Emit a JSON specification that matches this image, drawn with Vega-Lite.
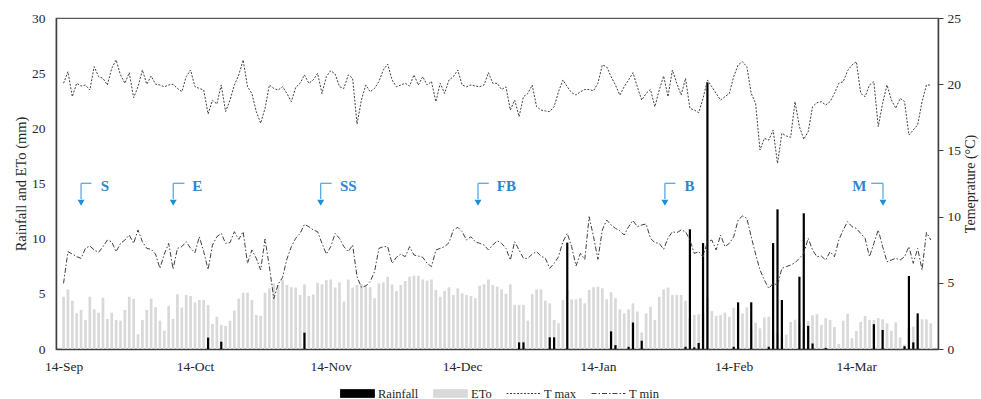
{
"$schema":"https://vega.github.io/schema/vega-lite/v6.json",
"width":882,"height":331,
"autosize":{"type":"none"},
"padding":{"left":56,"top":18,"right":43,"bottom":50},
"background":"white",
"config":{
 "view":{"stroke":"#595959","strokeWidth":1.2},
 "font":"Liberation Serif",
 "axis":{"labelFont":"Liberation Serif","titleFont":"Liberation Serif","labelFontSize":13.5,"titleFontSize":14.5,"labelColor":"#262626","titleColor":"#262626","titleFontWeight":"normal","grid":false,"domainColor":"#404040","domainWidth":1.5},
 "legend":{"labelFont":"Liberation Serif","labelFontSize":12.5,"labelColor":"#262626"}
},
"datasets":{
"days":[
{"date":"2018-09-14","rain":0,"eto":4.74,"tmax":20.07,"tmin":4.96},
{"date":"2018-09-15","rain":0,"eto":5.41,"tmax":20.94,"tmin":7.35},
{"date":"2018-09-16","rain":0,"eto":4.38,"tmax":19.06,"tmin":7.17},
{"date":"2018-09-17","rain":0,"eto":3.24,"tmax":20.07,"tmin":6.97},
{"date":"2018-09-18","rain":0,"eto":3.54,"tmax":19.86,"tmin":6.85},
{"date":"2018-09-19","rain":0,"eto":2.63,"tmax":19.94,"tmin":7.6},
{"date":"2018-09-20","rain":0,"eto":4.74,"tmax":19.56,"tmin":7.78},
{"date":"2018-09-21","rain":0,"eto":3.6,"tmax":21.33,"tmin":7.48},
{"date":"2018-09-22","rain":0,"eto":3.29,"tmax":20.57,"tmin":7.3},
{"date":"2018-09-23","rain":0,"eto":4.65,"tmax":20.44,"tmin":7.73},
{"date":"2018-09-24","rain":0,"eto":2.72,"tmax":19.94,"tmin":8.23},
{"date":"2018-09-25","rain":0,"eto":3.29,"tmax":21.2,"tmin":8.1},
{"date":"2018-09-26","rain":0,"eto":2.63,"tmax":21.83,"tmin":7.35},
{"date":"2018-09-27","rain":0,"eto":2.57,"tmax":20.7,"tmin":7.98},
{"date":"2018-09-28","rain":0,"eto":3.54,"tmax":20.07,"tmin":8.23},
{"date":"2018-09-29","rain":0,"eto":4.74,"tmax":20.87,"tmin":8.61},
{"date":"2018-09-30","rain":0,"eto":4.53,"tmax":18.98,"tmin":7.98},
{"date":"2018-10-01","rain":0,"eto":1.33,"tmax":19.81,"tmin":8.99},
{"date":"2018-10-02","rain":0,"eto":2.63,"tmax":21.07,"tmin":8.1},
{"date":"2018-10-03","rain":0,"eto":3.54,"tmax":20.0,"tmin":7.6},
{"date":"2018-10-04","rain":0,"eto":4.56,"tmax":20.62,"tmin":7.53},
{"date":"2018-10-05","rain":0,"eto":3.78,"tmax":20.0,"tmin":7.17},
{"date":"2018-10-06","rain":0,"eto":2.57,"tmax":19.94,"tmin":6.09},
{"date":"2018-10-07","rain":0,"eto":1.66,"tmax":19.81,"tmin":7.17},
{"date":"2018-10-08","rain":0,"eto":3.9,"tmax":19.94,"tmin":7.98},
{"date":"2018-10-09","rain":0,"eto":2.72,"tmax":19.99,"tmin":6.04},
{"date":"2018-10-10","rain":0,"eto":4.96,"tmax":19.68,"tmin":7.6},
{"date":"2018-10-11","rain":0,"eto":3.75,"tmax":19.43,"tmin":7.73},
{"date":"2018-10-12","rain":0,"eto":4.9,"tmax":20.57,"tmin":8.1},
{"date":"2018-10-13","rain":0,"eto":4.8,"tmax":21.07,"tmin":7.6},
{"date":"2018-10-14","rain":0,"eto":4.23,"tmax":19.81,"tmin":7.27},
{"date":"2018-10-15","rain":0,"eto":4.44,"tmax":19.68,"tmin":8.48},
{"date":"2018-10-16","rain":0,"eto":4.44,"tmax":19.56,"tmin":7.35},
{"date":"2018-10-17","rain":1.03,"eto":3.99,"tmax":17.75,"tmin":6.0},
{"date":"2018-10-18","rain":0,"eto":2.27,"tmax":18.8,"tmin":7.85},
{"date":"2018-10-19","rain":0,"eto":2.93,"tmax":18.5,"tmin":8.48},
{"date":"2018-10-20","rain":0.66,"eto":2.18,"tmax":19.94,"tmin":8.73},
{"date":"2018-10-21","rain":0,"eto":2.09,"tmax":17.93,"tmin":7.98},
{"date":"2018-10-22","rain":0,"eto":2.57,"tmax":18.8,"tmin":8.03},
{"date":"2018-10-23","rain":0,"eto":3.48,"tmax":19.94,"tmin":8.86},
{"date":"2018-10-24","rain":0,"eto":4.56,"tmax":20.7,"tmin":8.28},
{"date":"2018-10-25","rain":0,"eto":5.1,"tmax":21.83,"tmin":8.86},
{"date":"2018-10-26","rain":0,"eto":5.1,"tmax":19.81,"tmin":6.47},
{"date":"2018-10-27","rain":0,"eto":4.44,"tmax":19.3,"tmin":7.48},
{"date":"2018-10-28","rain":0,"eto":3.08,"tmax":17.93,"tmin":6.85},
{"date":"2018-10-29","rain":0,"eto":3.0,"tmax":17.05,"tmin":5.97},
{"date":"2018-10-30","rain":0,"eto":5.1,"tmax":18.18,"tmin":8.3},
{"date":"2018-10-31","rain":0,"eto":5.5,"tmax":19.94,"tmin":6.2},
{"date":"2018-11-01","rain":0,"eto":5.95,"tmax":19.68,"tmin":3.8},
{"date":"2018-11-02","rain":0,"eto":5.8,"tmax":19.56,"tmin":4.9},
{"date":"2018-11-03","rain":0,"eto":6.25,"tmax":19.81,"tmin":5.4},
{"date":"2018-11-04","rain":0,"eto":5.8,"tmax":19.3,"tmin":6.8},
{"date":"2018-11-05","rain":0,"eto":5.6,"tmax":18.68,"tmin":7.73},
{"date":"2018-11-06","rain":0,"eto":5.57,"tmax":19.76,"tmin":8.36},
{"date":"2018-11-07","rain":0,"eto":4.9,"tmax":20.07,"tmin":8.73},
{"date":"2018-11-08","rain":1.48,"eto":5.86,"tmax":20.7,"tmin":9.41},
{"date":"2018-11-09","rain":0,"eto":4.8,"tmax":20.07,"tmin":9.24},
{"date":"2018-11-10","rain":0,"eto":4.95,"tmax":20.32,"tmin":8.99},
{"date":"2018-11-11","rain":0,"eto":6.0,"tmax":20.82,"tmin":8.86},
{"date":"2018-11-12","rain":0,"eto":5.86,"tmax":19.3,"tmin":7.98},
{"date":"2018-11-13","rain":0,"eto":6.25,"tmax":20.57,"tmin":7.17},
{"date":"2018-11-14","rain":0,"eto":6.3,"tmax":21.02,"tmin":7.73},
{"date":"2018-11-15","rain":0,"eto":5.57,"tmax":20.77,"tmin":8.73},
{"date":"2018-11-16","rain":0,"eto":6.04,"tmax":19.81,"tmin":8.36},
{"date":"2018-11-17","rain":0,"eto":4.3,"tmax":19.68,"tmin":7.73},
{"date":"2018-11-18","rain":0,"eto":6.3,"tmax":20.7,"tmin":7.35},
{"date":"2018-11-19","rain":0,"eto":5.57,"tmax":20.44,"tmin":7.85},
{"date":"2018-11-20","rain":0,"eto":5.8,"tmax":17.0,"tmin":5.46},
{"date":"2018-11-21","rain":0,"eto":5.86,"tmax":18.8,"tmin":4.66},
{"date":"2018-11-22","rain":0,"eto":5.8,"tmax":19.94,"tmin":4.76},
{"date":"2018-11-23","rain":0,"eto":5.6,"tmax":19.43,"tmin":5.09},
{"date":"2018-11-24","rain":0,"eto":4.6,"tmax":19.68,"tmin":5.84},
{"date":"2018-11-25","rain":0,"eto":5.95,"tmax":20.2,"tmin":7.6},
{"date":"2018-11-26","rain":0,"eto":6.04,"tmax":21.07,"tmin":7.73},
{"date":"2018-11-27","rain":0,"eto":6.55,"tmax":21.52,"tmin":7.73},
{"date":"2018-11-28","rain":0,"eto":5.86,"tmax":20.32,"tmin":6.47},
{"date":"2018-11-29","rain":0,"eto":5.26,"tmax":19.81,"tmin":6.93},
{"date":"2018-11-30","rain":0,"eto":5.8,"tmax":19.94,"tmin":7.17},
{"date":"2018-12-01","rain":0,"eto":6.16,"tmax":20.07,"tmin":6.97},
{"date":"2018-12-02","rain":0,"eto":6.55,"tmax":19.86,"tmin":7.73},
{"date":"2018-12-03","rain":0,"eto":6.64,"tmax":20.7,"tmin":7.1},
{"date":"2018-12-04","rain":0,"eto":6.64,"tmax":19.94,"tmin":7.02},
{"date":"2018-12-05","rain":0,"eto":6.3,"tmax":20.57,"tmin":6.93},
{"date":"2018-12-06","rain":0,"eto":6.2,"tmax":19.94,"tmin":6.47},
{"date":"2018-12-07","rain":0,"eto":6.3,"tmax":20.2,"tmin":6.22},
{"date":"2018-12-08","rain":0,"eto":5.35,"tmax":18.68,"tmin":7.48},
{"date":"2018-12-09","rain":0,"eto":4.74,"tmax":20.07,"tmin":7.6},
{"date":"2018-12-10","rain":0,"eto":5.26,"tmax":19.3,"tmin":7.73},
{"date":"2018-12-11","rain":0,"eto":5.6,"tmax":20.32,"tmin":8.03},
{"date":"2018-12-12","rain":0,"eto":4.9,"tmax":20.57,"tmin":8.99},
{"date":"2018-12-13","rain":0,"eto":5.5,"tmax":21.07,"tmin":9.19},
{"date":"2018-12-14","rain":0,"eto":5.05,"tmax":19.94,"tmin":8.86},
{"date":"2018-12-15","rain":0,"eto":4.9,"tmax":19.81,"tmin":8.23},
{"date":"2018-12-16","rain":0,"eto":4.8,"tmax":19.94,"tmin":8.48},
{"date":"2018-12-17","rain":0,"eto":4.6,"tmax":19.86,"tmin":8.1},
{"date":"2018-12-18","rain":0,"eto":5.74,"tmax":19.81,"tmin":7.98},
{"date":"2018-12-19","rain":0,"eto":5.86,"tmax":19.94,"tmin":7.85},
{"date":"2018-12-20","rain":0,"eto":6.3,"tmax":20.87,"tmin":7.48},
{"date":"2018-12-21","rain":0,"eto":5.8,"tmax":20.07,"tmin":7.85},
{"date":"2018-12-22","rain":0,"eto":5.65,"tmax":20.07,"tmin":8.18},
{"date":"2018-12-23","rain":0,"eto":5.4,"tmax":19.6,"tmin":7.98},
{"date":"2018-12-24","rain":0,"eto":5.0,"tmax":19.8,"tmin":7.6},
{"date":"2018-12-25","rain":0,"eto":5.86,"tmax":18.05,"tmin":6.72},
{"date":"2018-12-26","rain":0,"eto":4.0,"tmax":18.8,"tmin":8.1},
{"date":"2018-12-27","rain":0.6,"eto":4.0,"tmax":17.55,"tmin":7.48},
{"date":"2018-12-28","rain":0.6,"eto":4.0,"tmax":19.06,"tmin":6.85},
{"date":"2018-12-29","rain":0,"eto":2.57,"tmax":19.3,"tmin":6.85},
{"date":"2018-12-30","rain":0,"eto":4.97,"tmax":19.94,"tmin":7.17},
{"date":"2018-12-31","rain":0,"eto":5.4,"tmax":18.3,"tmin":7.35},
{"date":"2019-01-01","rain":0,"eto":5.4,"tmax":18.05,"tmin":7.02},
{"date":"2019-01-02","rain":0,"eto":4.38,"tmax":17.98,"tmin":6.85},
{"date":"2019-01-03","rain":1.06,"eto":4.14,"tmax":17.93,"tmin":6.09},
{"date":"2019-01-04","rain":1.06,"eto":2.63,"tmax":18.3,"tmin":6.47},
{"date":"2019-01-05","rain":0,"eto":2.33,"tmax":19.43,"tmin":6.97},
{"date":"2019-01-06","rain":0,"eto":4.44,"tmax":20.32,"tmin":8.1},
{"date":"2019-01-07","rain":9.64,"eto":5.35,"tmax":19.81,"tmin":8.73},
{"date":"2019-01-08","rain":0,"eto":4.5,"tmax":19.36,"tmin":7.73},
{"date":"2019-01-09","rain":0,"eto":4.5,"tmax":19.18,"tmin":6.27},
{"date":"2019-01-10","rain":0,"eto":4.6,"tmax":19.43,"tmin":7.22},
{"date":"2019-01-11","rain":0,"eto":4.14,"tmax":19.6,"tmin":6.77},
{"date":"2019-01-12","rain":0,"eto":5.35,"tmax":19.6,"tmin":9.99},
{"date":"2019-01-13","rain":0,"eto":5.6,"tmax":19.5,"tmin":8.48},
{"date":"2019-01-14","rain":0,"eto":5.65,"tmax":20.07,"tmin":6.77},
{"date":"2019-01-15","rain":0,"eto":5.5,"tmax":21.45,"tmin":8.99},
{"date":"2019-01-16","rain":0,"eto":4.5,"tmax":21.32,"tmin":9.74},
{"date":"2019-01-17","rain":1.6,"eto":5.14,"tmax":20.57,"tmin":9.37},
{"date":"2019-01-18","rain":0.35,"eto":4.6,"tmax":19.94,"tmin":9.11},
{"date":"2019-01-19","rain":0,"eto":3.59,"tmax":19.18,"tmin":8.94},
{"date":"2019-01-20","rain":0,"eto":3.23,"tmax":19.81,"tmin":8.61},
{"date":"2019-01-21","rain":0.2,"eto":3.59,"tmax":20.32,"tmin":9.24},
{"date":"2019-01-22","rain":2.4,"eto":4.14,"tmax":20.87,"tmin":9.7},
{"date":"2019-01-23","rain":0,"eto":3.4,"tmax":19.8,"tmin":9.24},
{"date":"2019-01-24","rain":0.75,"eto":1.5,"tmax":18.8,"tmin":9.37},
{"date":"2019-01-25","rain":0,"eto":3.23,"tmax":19.3,"tmin":9.44},
{"date":"2019-01-26","rain":0,"eto":3.83,"tmax":19.6,"tmin":8.36},
{"date":"2019-01-27","rain":0,"eto":2.63,"tmax":18.3,"tmin":8.03},
{"date":"2019-01-28","rain":0,"eto":4.74,"tmax":19.56,"tmin":7.98},
{"date":"2019-01-29","rain":0,"eto":5.4,"tmax":20.62,"tmin":7.53},
{"date":"2019-01-30","rain":0,"eto":5.57,"tmax":19.06,"tmin":8.36},
{"date":"2019-01-31","rain":0,"eto":4.9,"tmax":21.07,"tmin":8.86},
{"date":"2019-02-01","rain":0,"eto":4.9,"tmax":20.07,"tmin":8.78},
{"date":"2019-02-02","rain":0,"eto":4.9,"tmax":19.18,"tmin":8.99},
{"date":"2019-02-03","rain":0.2,"eto":4.38,"tmax":20.44,"tmin":8.86},
{"date":"2019-02-04","rain":10.85,"eto":2.78,"tmax":18.18,"tmin":8.23},
{"date":"2019-02-05","rain":0.15,"eto":3.08,"tmax":18.05,"tmin":7.22},
{"date":"2019-02-06","rain":0.55,"eto":3.14,"tmax":17.85,"tmin":7.35},
{"date":"2019-02-07","rain":9.6,"eto":3.23,"tmax":18.93,"tmin":6.97},
{"date":"2019-02-08","rain":24.15,"eto":4.6,"tmax":20.32,"tmin":8.1},
{"date":"2019-02-09","rain":0,"eto":3.44,"tmax":19.81,"tmin":8.23},
{"date":"2019-02-10","rain":0,"eto":3.0,"tmax":19.3,"tmin":7.48},
{"date":"2019-02-11","rain":0,"eto":3.08,"tmax":18.8,"tmin":8.61},
{"date":"2019-02-12","rain":0,"eto":3.29,"tmax":19.06,"tmin":7.73},
{"date":"2019-02-13","rain":0,"eto":2.93,"tmax":19.3,"tmin":7.98},
{"date":"2019-02-14","rain":0.2,"eto":3.74,"tmax":20.57,"tmin":8.48},
{"date":"2019-02-15","rain":4.23,"eto":3.59,"tmax":21.45,"tmin":9.74},
{"date":"2019-02-16","rain":0,"eto":3.23,"tmax":21.7,"tmin":10.05},
{"date":"2019-02-17","rain":0,"eto":3.78,"tmax":21.32,"tmin":9.87},
{"date":"2019-02-18","rain":4.23,"eto":1.85,"tmax":19.3,"tmin":8.48},
{"date":"2019-02-19","rain":0,"eto":2.39,"tmax":18.55,"tmin":7.17},
{"date":"2019-02-20","rain":0,"eto":1.87,"tmax":15.03,"tmin":5.97},
{"date":"2019-02-21","rain":0,"eto":2.87,"tmax":15.91,"tmin":5.21},
{"date":"2019-02-22","rain":0.2,"eto":2.93,"tmax":15.78,"tmin":4.58},
{"date":"2019-02-23","rain":9.6,"eto":1.5,"tmax":16.53,"tmin":4.96},
{"date":"2019-02-24","rain":12.66,"eto":1.4,"tmax":14.02,"tmin":4.83},
{"date":"2019-02-25","rain":4.44,"eto":1.06,"tmax":16.29,"tmin":6.09},
{"date":"2019-02-26","rain":0,"eto":1.3,"tmax":16.09,"tmin":6.22},
{"date":"2019-02-27","rain":0,"eto":2.45,"tmax":15.99,"tmin":6.34},
{"date":"2019-02-28","rain":0,"eto":2.66,"tmax":18.68,"tmin":6.52},
{"date":"2019-03-01","rain":6.55,"eto":2.35,"tmax":16.79,"tmin":6.85},
{"date":"2019-03-02","rain":12.3,"eto":1.72,"tmax":15.84,"tmin":7.22},
{"date":"2019-03-03","rain":2.1,"eto":2.54,"tmax":16.41,"tmin":8.36},
{"date":"2019-03-04","rain":0.5,"eto":3.06,"tmax":18.3,"tmin":7.48},
{"date":"2019-03-05","rain":0,"eto":3.15,"tmax":18.6,"tmin":6.97},
{"date":"2019-03-06","rain":0,"eto":2.18,"tmax":18.68,"tmin":7.02},
{"date":"2019-03-07","rain":0.1,"eto":2.8,"tmax":18.43,"tmin":6.72},
{"date":"2019-03-08","rain":0,"eto":2.62,"tmax":18.68,"tmin":7.35},
{"date":"2019-03-09","rain":0,"eto":2.0,"tmax":19.31,"tmin":6.97},
{"date":"2019-03-10","rain":0,"eto":0.45,"tmax":20.07,"tmin":8.23},
{"date":"2019-03-11","rain":0,"eto":2.57,"tmax":20.19,"tmin":8.99},
{"date":"2019-03-12","rain":0,"eto":3.2,"tmax":21.02,"tmin":9.62},
{"date":"2019-03-13","rain":0,"eto":0.98,"tmax":21.45,"tmin":9.24},
{"date":"2019-03-14","rain":0,"eto":1.63,"tmax":21.7,"tmin":9.11},
{"date":"2019-03-15","rain":0,"eto":2.45,"tmax":19.31,"tmin":8.73},
{"date":"2019-03-16","rain":0,"eto":3.0,"tmax":19.06,"tmin":8.36},
{"date":"2019-03-17","rain":0,"eto":2.63,"tmax":19.94,"tmin":6.97},
{"date":"2019-03-18","rain":2.25,"eto":2.63,"tmax":20.19,"tmin":7.98},
{"date":"2019-03-19","rain":0,"eto":2.81,"tmax":16.79,"tmin":8.99},
{"date":"2019-03-20","rain":1.72,"eto":2.69,"tmax":18.56,"tmin":7.73},
{"date":"2019-03-21","rain":0,"eto":2.33,"tmax":19.94,"tmin":6.59},
{"date":"2019-03-22","rain":0,"eto":1.66,"tmax":18.81,"tmin":6.72},
{"date":"2019-03-23","rain":0,"eto":2.42,"tmax":18.18,"tmin":6.85},
{"date":"2019-03-24","rain":0,"eto":1.06,"tmax":18.93,"tmin":6.72},
{"date":"2019-03-25","rain":0.25,"eto":0.4,"tmax":18.68,"tmin":6.97},
{"date":"2019-03-26","rain":6.62,"eto":1.87,"tmax":16.16,"tmin":7.73},
{"date":"2019-03-27","rain":0.6,"eto":2.02,"tmax":16.54,"tmin":6.47},
{"date":"2019-03-28","rain":3.23,"eto":2.72,"tmax":16.93,"tmin":7.6},
{"date":"2019-03-29","rain":0,"eto":2.69,"tmax":18.68,"tmin":5.97},
{"date":"2019-03-30","rain":0,"eto":2.69,"tmax":19.94,"tmin":8.8},
{"date":"2019-03-31","rain":0,"eto":2.33,"tmax":19.94,"tmin":8.23}
],
"notes":[
{"label":"S","arrow":"2018-09-18T00:00:00Z","arm":"2018-09-20T09:00:00Z","text":"2018-09-23T11:00:00Z"},
{"label":"E","arrow":"2018-10-09T01:00:00Z","arm":"2018-10-11T14:00:00Z","text":"2018-10-14T12:00:00Z"},
{"label":"SS","arrow":"2018-11-11T17:00:00Z","arm":"2018-11-14T05:00:00Z","text":"2018-11-18T00:00:00Z"},
{"label":"FB","arrow":"2018-12-17T15:00:00Z","arm":"2018-12-20T02:00:00Z","text":"2018-12-24T02:00:00Z"},
{"label":"B","arrow":"2019-01-29T07:00:00Z","arm":"2019-01-31T17:00:00Z","text":"2019-02-03T22:00:00Z"},
{"label":"M","arrow":"2019-03-20T02:00:00Z","arm":"2019-03-17T10:00:00Z","text":"2019-03-14T17:00:00Z"}
]
},
"data":{"name":"days"},
"layer":[
 {"layer":[
  {"mark":{"type":"bar","size":2.7},
   "encoding":{
    "x":{"field":"date","type":"temporal",
     "scale":{"type":"utc","domain":[{"year":2018,"month":9,"date":13,"hours":10,"utc":true},{"year":2019,"month":3,"date":31,"hours":12,"utc":true}]},
     "axis":{"title":null,"format":"%d-%b","ticks":false,"labelPadding":10,"labelFlush":false,"labelOverlap":false,
      "values":[{"year":2018,"month":9,"date":14,"utc":true},{"year":2018,"month":10,"date":14,"utc":true},{"year":2018,"month":11,"date":14,"utc":true},{"year":2018,"month":12,"date":14,"utc":true},{"year":2019,"month":1,"date":14,"utc":true},{"year":2019,"month":2,"date":14,"utc":true},{"year":2019,"month":3,"date":14,"utc":true}]}},
    "y":{"field":"eto","type":"quantitative","scale":{"domain":[0,30],"nice":false},
     "axis":{"title":"Rainfall and ETo (mm)","values":[0,5,10,15,20,25,30],"ticks":false,"labelPadding":11,"titlePadding":3}},
    "color":{"datum":"ETo","type":"nominal",
     "scale":{"domain":["Rainfall","ETo","T max","T min"],"range":["#000000","#d9d9d9","#404040","#404040"]},
     "legend":{"orient":"none","legendX":284,"legendY":358,"direction":"horizontal","title":null,"symbolSize":1156,"labelOffset":3,"columnPadding":12,
      "encode":{"symbols":{"update":{
       "shape":{"signal":"datum.value==='T max'||datum.value==='T min' ? 'stroke' : 'M-1,-0.23H1V0.23H-1Z'"},
       "fill":{"signal":"datum.value==='Rainfall' ? '#000000' : datum.value==='ETo' ? '#d9d9d9' : 'transparent'"},
       "stroke":{"signal":"datum.value==='T max'||datum.value==='T min' ? '#404040' : 'transparent'"},
       "strokeDash":{"signal":"datum.value==='T max' ? [2,1.5] : datum.value==='T min' ? [5,2,1.5,2] : [1,0]"},
       "strokeWidth":{"value":1},
       "opacity":{"value":1}}}}}}
   }},
  {"transform":[{"filter":"datum.rain > 0"}],
   "mark":{"type":"bar","size":2.2},
   "encoding":{
    "x":{"field":"date","type":"temporal"},
    "y":{"field":"rain","type":"quantitative"},
    "color":{"datum":"Rainfall","type":"nominal"}
   }},
  {"data":{"name":"notes"},
   "mark":{"type":"rule","color":"#4da3e0","strokeWidth":1.2},
   "encoding":{
    "x":{"field":"arrow","type":"temporal"},
    "y":{"datum":15.02,"type":"quantitative"},
    "y2":{"datum":13.6}
   }},
  {"data":{"name":"notes"},
   "mark":{"type":"rule","color":"#4da3e0","strokeWidth":1.2},
   "encoding":{
    "x":{"field":"arrow","type":"temporal"},
    "x2":{"field":"arm"},
    "y":{"datum":15.02,"type":"quantitative"}
   }},
  {"data":{"name":"notes"},
   "mark":{"type":"point","shape":"triangle-down","filled":true,"size":48,"color":"#1b8fd9","opacity":1},
   "encoding":{
    "x":{"field":"arrow","type":"temporal"},
    "y":{"datum":13.25,"type":"quantitative"}
   }},
  {"data":{"name":"notes"},
   "mark":{"type":"text","color":"#2a86d1","font":"Liberation Serif","fontSize":15,"fontWeight":"bold","align":"center","baseline":"middle"},
   "encoding":{
    "x":{"field":"text","type":"temporal"},
    "y":{"datum":14.8,"type":"quantitative"},
    "text":{"field":"label"}
   }}
 ]},
 {"layer":[
  {"mark":{"type":"line","strokeWidth":1,"strokeDash":[2,1.5]},
   "encoding":{
    "x":{"field":"date","type":"temporal"},
    "y":{"field":"tmax","type":"quantitative","scale":{"domain":[0,25],"nice":false},
     "axis":{"orient":"right","title":"Temeprature (°C)","values":[0,5,10,15,20,25],"tickSize":5,"tickColor":"#404040","labelPadding":4,"titlePadding":17,"titleFontSize":14,"titleAngle":270}},
    "color":{"datum":"T max","type":"nominal"}
   }},
  {"mark":{"type":"line","strokeWidth":1,"strokeDash":[5,2,1.5,2]},
   "encoding":{
    "x":{"field":"date","type":"temporal"},
    "y":{"field":"tmin","type":"quantitative"},
    "color":{"datum":"T min","type":"nominal"}
   }}
 ]}
],
"resolve":{"scale":{"y":"independent"}}
}
